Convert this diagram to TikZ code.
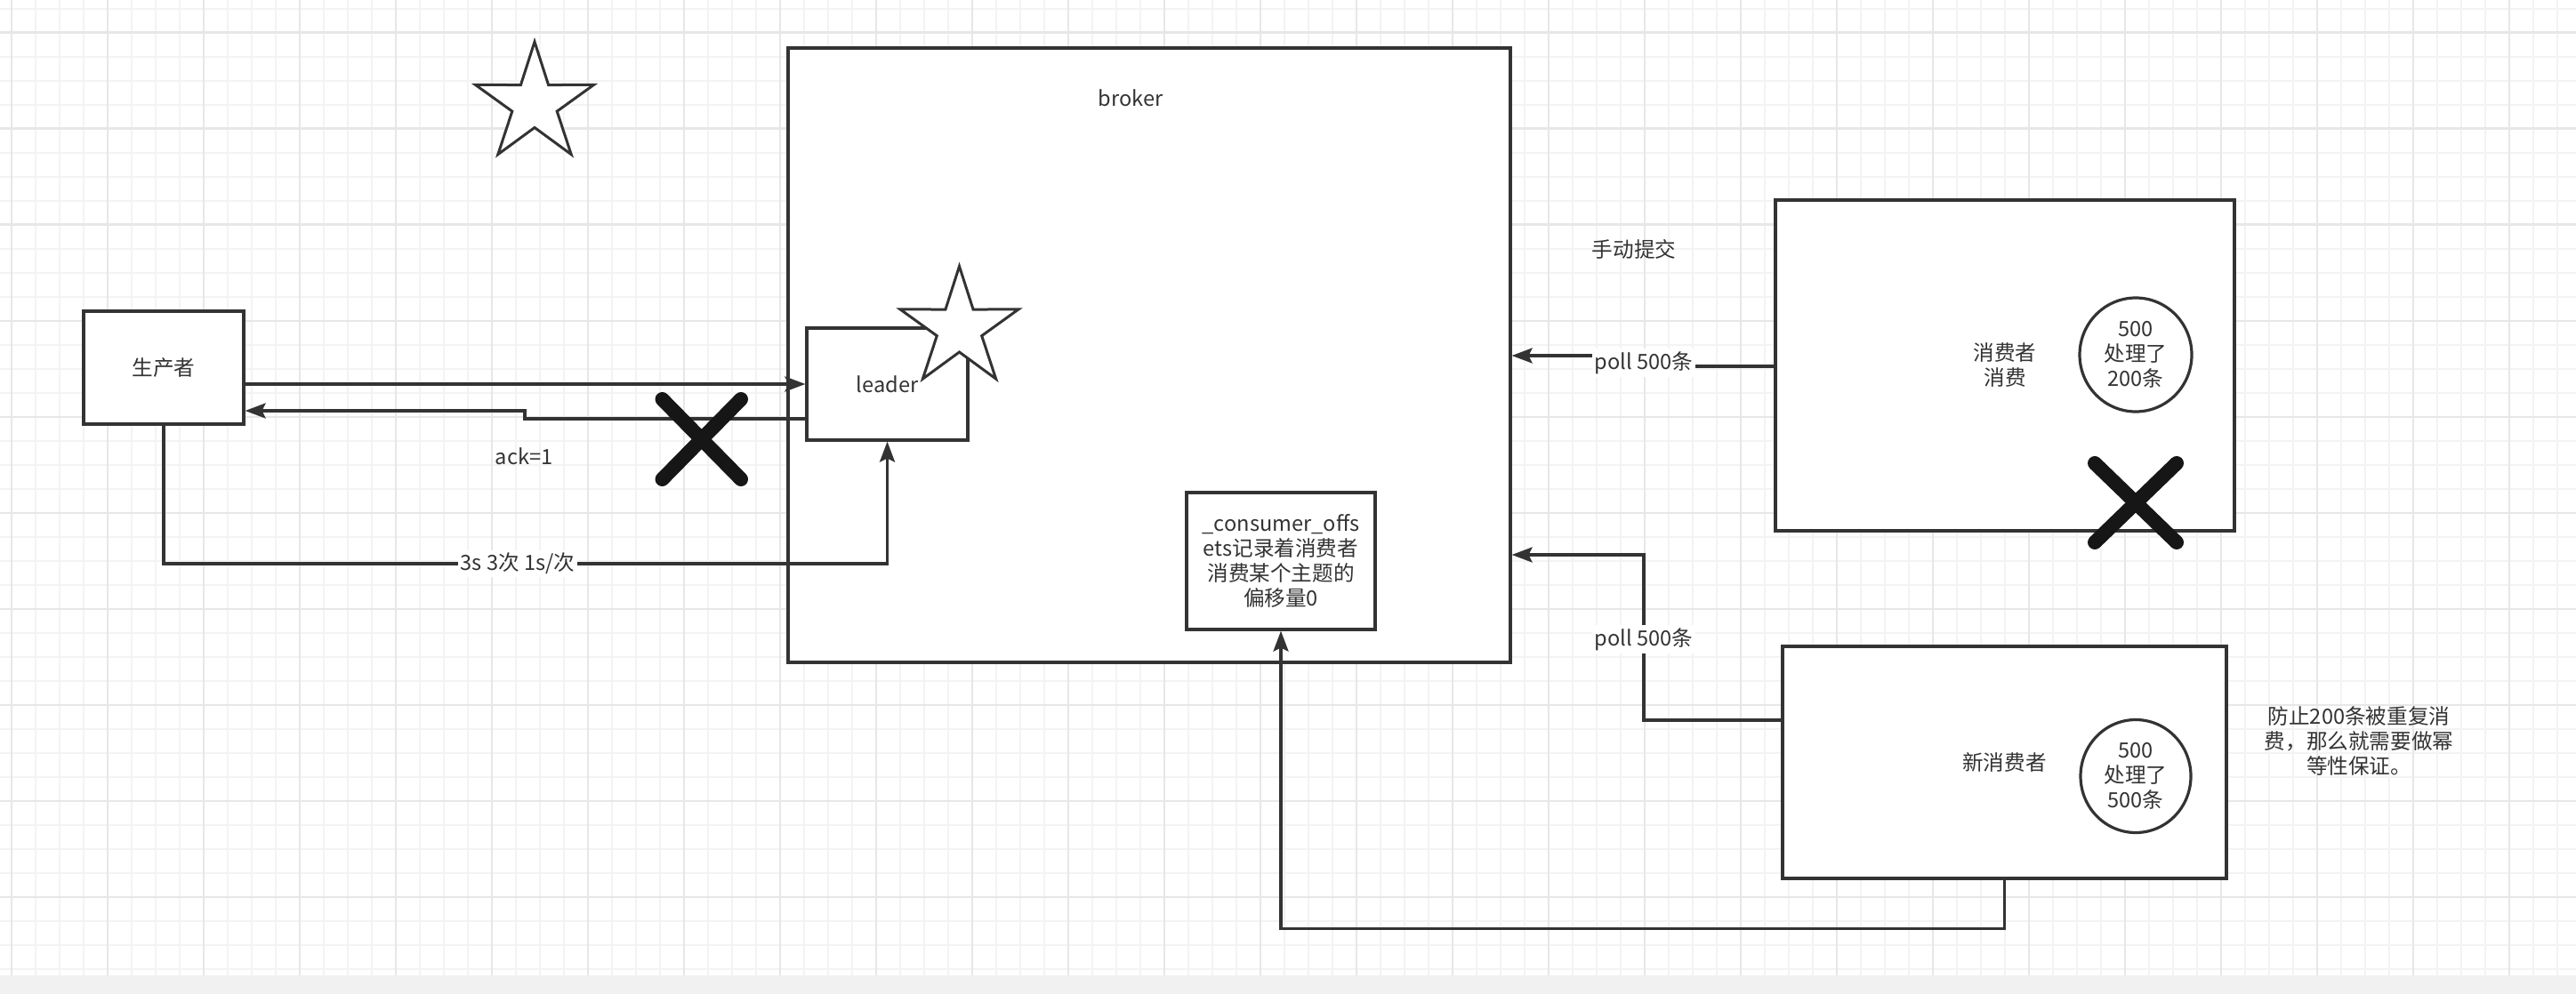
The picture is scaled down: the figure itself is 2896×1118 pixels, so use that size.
\documentclass[tikz,border=0pt]{standalone}
\usepackage{fontspec}
\setmainfont{Noto Sans CJK SC}
\usetikzlibrary{arrows.meta,shapes.geometric}
\definecolor{ink}{HTML}{333333}
\definecolor{xink}{HTML}{161616}
\definecolor{gminor}{HTML}{F3F3F3}
\definecolor{gmajor}{HTML}{E7E7E7}
\definecolor{band}{HTML}{F1F1F1}
\newcommand\dgfont{\fontsize{11.8}{14}\selectfont}
\begin{document}
\begin{tikzpicture}[x=0.5pt,y=-0.5pt,
  box/.style={draw=ink, line width=1.6pt, fill=white, rectangle, inner sep=0pt, text=ink, align=center, font=\dgfont},
  oval/.style={draw=ink, line width=1.6pt, fill=white, ellipse, inner sep=0pt, text=ink, align=center, font=\dgfont},
  txt/.style={text=ink, align=center, font=\dgfont, inner sep=0pt},
  lbl/.style={fill=white, text=ink, align=center, font=\dgfont, inner sep=1.5pt},
  arr/.style={draw=ink, line width=1.6pt, -{Stealth[length=11.5pt,width=8.5pt,inset=2pt]}},
  starsty/.style={draw=ink, line width=1.5pt, fill=white, line join=miter},
  cross/.style={draw=xink, line width=8pt, line cap=round}
]
\useasboundingbox (0,0) rectangle (2896,1118);
\fill[white] (0,0) rectangle (2896,1118);
% grid
\foreach \i in {0,...,107} \draw[gminor, line width=1pt] ({12.7+27*\i},0) -- ({12.7+27*\i},1097);
\foreach \j in {0,...,40} \draw[gminor, line width=1pt] (0,{9.7+27*\j}) -- (2896,{9.7+27*\j});
\foreach \i in {0,...,26} \draw[gmajor, line width=1.2pt] ({12.7+108*\i},0) -- ({12.7+108*\i},1097);
\foreach \j in {0,...,9} \draw[gmajor, line width=1.2pt] (0,{36.7+108*\j}) -- (2896,{36.7+108*\j});
\fill[band] (0,1097) rectangle (2896,1118);

% boxes
\node[box, minimum width=406pt, minimum height=345.5pt] (broker) at (1292,399.5) {};
\node[txt] (brokerlbl) at (1271,110) {broker};
\node[box, minimum width=90pt, minimum height=63.5pt] (prod) at (184,413.5) {生产者};
\node[box, minimum width=90.5pt, minimum height=63pt] (leader) at (997.5,432) {leader};
\node[box, minimum width=106pt, minimum height=77pt] (offs) at (1440,631) {\_consumer\_offs\\ets记录着消费者\\消费某个主题的\\偏移量0};
\node[box, minimum width=258pt, minimum height=186pt] (cons) at (2254,411) {消费者\\消费};
\node[oval, minimum width=63pt, minimum height=64pt] (c1) at (2401,399) {500\\处理了\\200条};
\node[box, minimum width=249.5pt, minimum height=130.5pt] (newc) at (2253.5,857.5) {新消费者};
\node[oval, minimum width=62pt, minimum height=63.5pt] (c2) at (2401,873) {500\\处理了\\500条};

% stars
\begin{scope}[shift={(601,117)}, yscale=-1]
\draw[starsty] (90:70) -- (126:26.5) -- (162:70) -- (198:26.5) -- (234:70) -- (270:26.5) -- (306:70) -- (342:26.5) -- (18:70) -- (54:26.5) -- cycle;
\end{scope}
\begin{scope}[shift={(1078.5,369.5)}, yscale=-1]
\draw[starsty] (90:70) -- (126:26.5) -- (162:70) -- (198:26.5) -- (234:70) -- (270:26.5) -- (306:70) -- (342:26.5) -- (18:70) -- (54:26.5) -- cycle;
\end{scope}

% connectors
\draw[arr] (prod.east |- leader.center) -- (leader.west);
\coordinate (ackA) at (590,471);
\coordinate (ackB) at (590,462);
\draw[arr] (leader.west |- ackA) -- (ackA) -- (ackB) -- (prod.east |- ackB);
\coordinate (retry) at (997.5,634);
\draw[arr] (prod.south) |- (retry) -- (leader.south);
\coordinate (p1a) at (1849,412);
\coordinate (p1b) at (1849,400);
\draw[arr] (cons.west |- p1a) -- (p1a) -- (p1b) -- (broker.east |- p1b);
\coordinate (p2a) at (1848,624);
\draw[arr] (newc.west |- 0,810) -| (p2a) -- (broker.east |- p2a);
\draw[arr] (newc.south) -- ++(0,55) -| (offs.south);

% labels
\node[txt] (acklbl) at (589,513) {ack=1};
\node[lbl] (retrylbl) at (582,634) {3s 3次 1s/次};
\node[lbl] (poll1) at (1848,408) {poll 500条};
\node[lbl] (poll2) at (1848,719) {poll 500条};
\node[txt] (manual) at (1837,280) {手动提交};
\node[txt] (note) at (2652,833.5) {防止200条被重复消\\费，那么就需要做幂\\等性保证。};

% crosses
\draw[cross] (744.5,449) -- (833,539);
\draw[cross] (833,449) -- (744.5,539);
\draw[cross] (2355,521) -- (2447,610);
\draw[cross] (2447,521) -- (2355,610);
\end{tikzpicture}
\end{document}
